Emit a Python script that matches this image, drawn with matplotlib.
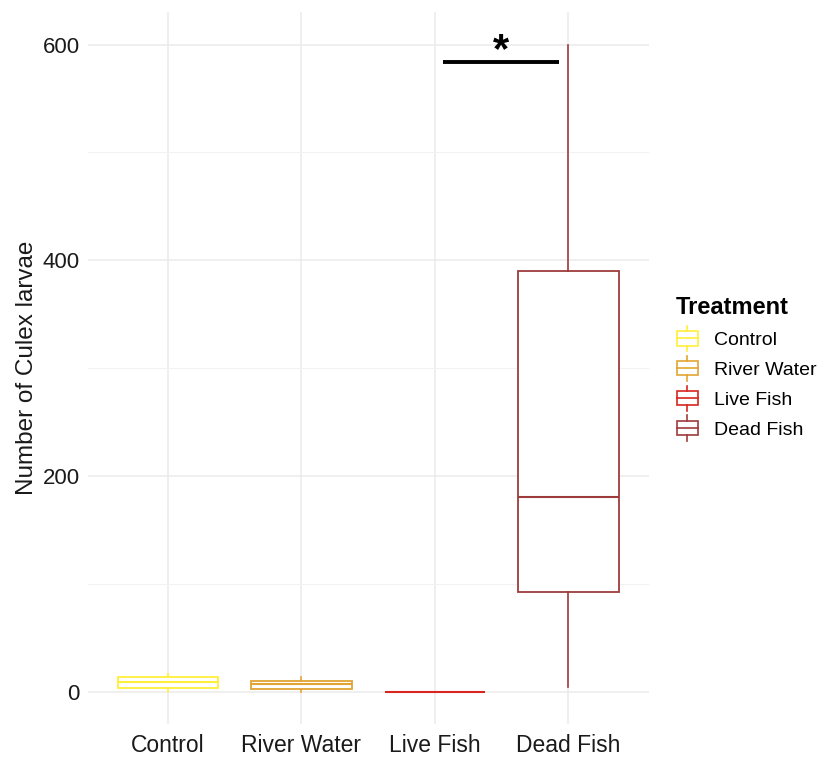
import matplotlib.pyplot as plt
from matplotlib.legend_handler import HandlerBase
from matplotlib.patches import Rectangle
from matplotlib.lines import Line2D
import numpy as np

plt.rcParams['font.family'] = ['Liberation Sans', 'DejaVu Sans']

# 各处理组的箱线图统计量
treatments = ['Control', 'River Water', 'Live Fish', 'Dead Fish']
whislo = [0, 0, 0, 5]
q1 = [4, 2.5, 0, 93]
med = [9, 7, 0, 181]
q3 = [14, 10, 0, 390]
whishi = [17, 13.5, 0, 600]
colors = ['#FFEF3A', '#E2A434', '#D7261E', '#9E3B3B']

# 显著性标注
sig_pair = (3.06, 3.93)
sig_y = 584
sig_label = '*'

fig = plt.figure(figsize=(8.21, 7.6), dpi=100)
ax = fig.add_axes([0.107, 0.047, 0.683, 0.937])

stats = []
for i in range(len(treatments)):
    stats.append({'whislo': whislo[i], 'q1': q1[i], 'med': med[i],
                  'q3': q3[i], 'whishi': whishi[i], 'fliers': []})

pos = np.arange(1, len(treatments) + 1)
for i in range(len(treatments)):
    c = colors[i]
    ax.bxp([stats[i]], positions=[pos[i]], widths=0.75, showcaps=False,
           patch_artist=True,
           boxprops=dict(facecolor='white', edgecolor=c, linewidth=1.3),
           medianprops=dict(color=c, linewidth=1.5),
           whiskerprops=dict(color=c, linewidth=1.2))

# 显著性横线和星号
ax.plot(sig_pair, [sig_y, sig_y], color='black', linewidth=2.8, solid_capstyle='butt')
ax.text(np.mean(sig_pair), sig_y - 9, sig_label, ha='center', va='bottom',
        fontsize=30, fontweight='bold')

ax.set_xlim(0.4, 4.6)
ax.set_ylim(-30, 630)
ax.set_xticks(pos)
ax.set_xticklabels(treatments, fontsize=16.5, color='#1a1a1a')
ax.set_yticks([0, 200, 400, 600])
ax.set_yticks([100, 300, 500], minor=True)
ax.tick_params(axis='y', labelsize=16, labelcolor='#1a1a1a', length=0, which='both', pad=6)
ax.tick_params(axis='x', length=0, pad=7)
ax.set_ylabel('Number of Culex larvae', fontsize=17.5, color='#1a1a1a', labelpad=3)

ax.grid(True, which='major', color='#EBEBEB', linewidth=1.1)
ax.grid(True, which='minor', axis='y', color='#F2F2F2', linewidth=0.7)
ax.set_axisbelow(True)
for s in ax.spines.values():
    s.set_visible(False)


class BoxHandler(HandlerBase):
    def create_artists(self, legend, orig_handle, xdescent, ydescent,
                       width, height, fontsize, trans):
        c = orig_handle.get_color()
        w = width * 0.9
        x0 = xdescent + (width - w) / 2
        h = height * 0.95
        y0 = -ydescent + (height - h) / 2
        rect = Rectangle((x0, y0), w, h, facecolor='white', edgecolor=c,
                         linewidth=1.2, transform=trans)
        mid = Line2D([x0, x0 + w], [y0 + h / 2] * 2, color=c, linewidth=1.2, transform=trans)
        top = Line2D([x0 + w / 2] * 2, [y0 + h, y0 + h + 4], color=c, linewidth=1.2, transform=trans)
        bot = Line2D([x0 + w / 2] * 2, [y0 - 4, y0], color=c, linewidth=1.2, transform=trans)
        return [rect, mid, top, bot]


handles = [Line2D([], [], color=c) for c in colors]
leg = fig.legend(handles, treatments, handler_map={Line2D: BoxHandler()},
                 loc='upper left', bbox_to_anchor=(0.806, 0.628), frameon=False,
                 fontsize=14, title='Treatment', handlelength=1.25, handleheight=0.8,
                 labelspacing=0.6, handletextpad=0.75, alignment='left',
                 borderpad=0.2)
leg.get_title().set_fontsize(17)
leg.get_title().set_fontweight('bold')

fig.savefig('out.png', dpi=100)
